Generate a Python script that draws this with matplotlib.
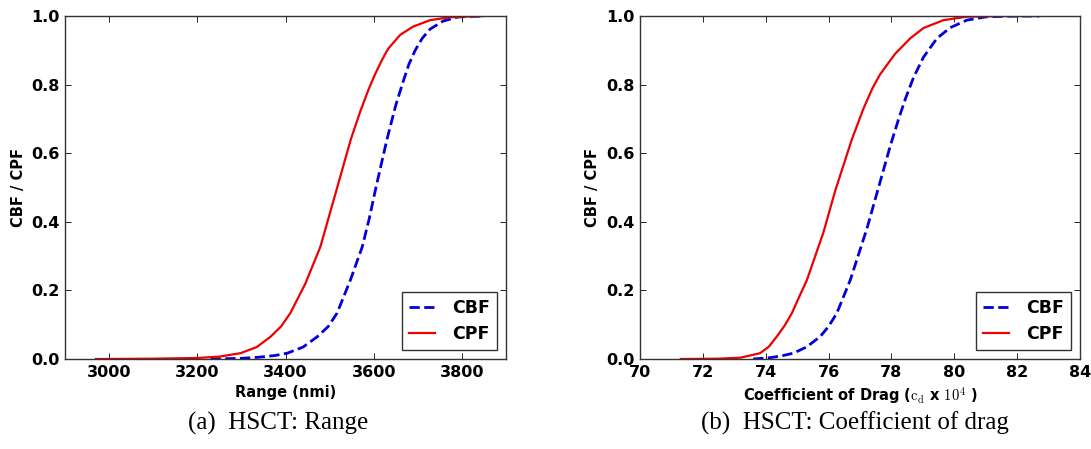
#!/usr/bin/env python3
"""
HSCT cumulative belief / plausibility functions for range and drag coefficient.
"""

import matplotlib
matplotlib.use("Agg")
import matplotlib.pyplot as plt

plt.rcParams['mathtext.fontset'] = 'cm'

# Range (nmi) panel
range_cpf_x = [2970, 3100, 3200, 3250, 3298, 3335, 3366, 3390, 3411, 3445, 3479,
               3515, 3548, 3569, 3588, 3603, 3620, 3633, 3660, 3689, 3728,
               3770, 3800, 3850]
range_cpf_y = [0.0, 0.001, 0.003, 0.007, 0.017, 0.035, 0.065, 0.095, 0.134, 0.22,
               0.327, 0.49, 0.64, 0.72, 0.785, 0.83, 0.875, 0.905, 0.945,
               0.969, 0.988, 0.996, 0.998, 1.0]

range_cbf_x = [3230, 3300, 3337, 3375, 3404, 3440, 3472, 3497, 3517, 3547, 3574,
               3590, 3605, 3630, 3650, 3667, 3680, 3694, 3710, 3728, 3757,
               3790, 3820, 3850]
range_cbf_y = [0.0, 0.002, 0.005, 0.01, 0.017, 0.035, 0.065, 0.095, 0.134, 0.23,
               0.327, 0.41, 0.5, 0.64, 0.74, 0.81, 0.86, 0.9, 0.935, 0.962,
               0.985, 0.997, 0.999, 1.0]

# Coefficient of drag panel
drag_cpf_x = [71.3, 72.5, 73.2, 73.82, 74.1, 74.35, 74.6, 74.83, 75.05, 75.31,
              75.84, 76.21, 76.74, 77.11, 77.4, 77.64, 78.12, 78.6, 79.02,
              79.66, 80.4, 81.5, 82.7]
drag_cpf_y = [0.0, 0.001, 0.004, 0.017, 0.036, 0.065, 0.097, 0.133, 0.178, 0.23,
              0.37, 0.49, 0.64, 0.73, 0.79, 0.83, 0.89, 0.935, 0.965,
              0.988, 0.998, 1.0, 1.0]

drag_cbf_x = [73.6, 74.14, 74.5, 74.88, 75.3, 75.73, 76.0, 76.26, 76.69, 77.22,
              77.59, 77.96, 78.23, 78.45, 78.7, 79.02, 79.45, 79.87, 80.4,
              81.04, 82.0, 82.7]
drag_cbf_y = [0.0, 0.004, 0.009, 0.017, 0.035, 0.065, 0.095, 0.133, 0.23, 0.38,
              0.5, 0.62, 0.7, 0.76, 0.82, 0.88, 0.935, 0.966, 0.988,
              0.998, 1.0, 1.0]

range_ticks = [3000, 3200, 3400, 3600, 3800]
drag_ticks = [70, 72, 74, 76, 78, 80, 82, 84]
y_ticks = [0.0, 0.2, 0.4, 0.6, 0.8, 1.0]


def style_axes(ax):
    ax.tick_params(direction='in', top=True, right=True, length=4, width=0.6,
                   labelsize=11.5, pad=4)
    for lbl in ax.get_xticklabels() + ax.get_yticklabels():
        lbl.set_fontweight('bold')
    for sp in ax.spines.values():
        sp.set_color('#333333')
        sp.set_linewidth(1.0)
    ax.set_ylabel('CBF / CPF', fontsize=10.5, fontweight='bold')
    leg = ax.legend(loc='lower right', prop={'weight': 'bold', 'size': 12.5},
                    fancybox=False, handlelength=1.5, handletextpad=1.0,
                    borderaxespad=0.5, labelspacing=0.5)
    leg.get_frame().set_edgecolor('black')
    leg.get_frame().set_linewidth(1.0)


fig = plt.figure(figsize=(10.91, 4.49), dpi=100)
ax1 = fig.add_axes([0.0596, 0.2004, 0.4042, 0.7639])
ax2 = fig.add_axes([0.5866, 0.2004, 0.4033, 0.7639])

ax1.plot(range_cbf_x, range_cbf_y, '--', color='#0000dd', lw=2.0, label='CBF')
ax1.plot(range_cpf_x, range_cpf_y, '-', color='#ee0000', lw=1.6, label='CPF')
ax1.set_xlim(2900, 3900)
ax1.set_ylim(0, 1)
ax1.set_xticks(range_ticks)
ax1.set_yticks(y_ticks)
ax1.set_xlabel('Range (nmi)', fontsize=10.5, fontweight='bold')
style_axes(ax1)

ax2.plot(drag_cbf_x, drag_cbf_y, '--', color='#0000dd', lw=2.0, label='CBF')
ax2.plot(drag_cpf_x, drag_cpf_y, '-', color='#ee0000', lw=1.6, label='CPF')
ax2.set_xlim(70, 84)
ax2.set_ylim(0, 1)
ax2.set_xticks(drag_ticks)
ax2.set_yticks(y_ticks)
ax2.set_xlabel(r'Coefficient of Drag ($\mathrm{c_d}$ x $10^4$ )', fontsize=10.5,
               fontweight='bold')
style_axes(ax2)

fig.text(0.255, 0.057, '(a)  HSCT: Range', ha='center', va='center',
         family='Liberation Serif', fontsize=18)
fig.text(0.784, 0.057, '(b)  HSCT: Coefficient of drag', ha='center', va='center',
         family='Liberation Serif', fontsize=18)

fig.savefig('out.png', dpi=100)
